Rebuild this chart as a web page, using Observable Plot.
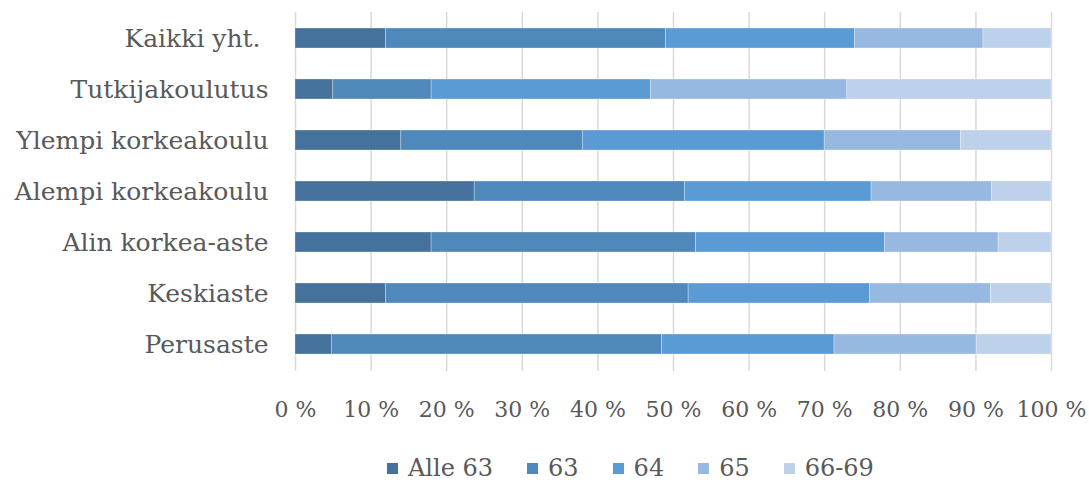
<!DOCTYPE html>
<html><head><meta charset="utf-8">
<script src="https://cdn.jsdelivr.net/npm/d3@7"></script>
<script src="https://cdn.jsdelivr.net/npm/@observablehq/plot@0.6"></script>
<style>
body{margin:0;background:#fff;font-family:"DejaVu Serif",serif;}
#legend{display:flex;justify-content:flex-start;font-size:24px;color:#595959;padding-left:387px;margin-top:23px;height:30px;align-items:center}
#legend span.item{display:flex;align-items:center;margin-right:34px}
#legend i{display:inline-block;width:11px;height:11px;margin-right:10px}
</style></head>
<body><div id="chart"></div><div id="legend"></div>
<script>
const categories = ["Kaikki yht. ","Tutkijakoulutus","Ylempi korkeakoulu","Alempi korkeakoulu","Alin korkea-aste","Keskiaste","Perusaste"];
const seriesNames = ["Alle 63","63","64","65","66-69"];
const colors = ["#44729c","#4f89bc","#5b9bd5","#97b8e0","#bdd1ea"];
const alle63 = [12, 5, 14, 23.7, 18, 12, 4.8];
const v63    = [37, 13, 24, 27.8, 35, 40, 43.7];
const v64    = [25, 29, 32, 24.7, 25, 24, 22.8];
const v65    = [17, 26, 18, 15.9, 15, 16, 18.8];
const v6669  = [9, 27, 12, 7.9, 7, 8, 9.9];
const xTicks = [0,0.1,0.2,0.3,0.4,0.5,0.6,0.7,0.8,0.9,1];

const seriesValues = [alle63, v63, v64, v65, v6669];
const data = [];
categories.forEach((c,i)=>seriesValues.forEach((arr,s)=>data.push({cat:c, series:seriesNames[s], value:arr[i]})));

const chart = Plot.plot({
  width:1089, height:430,
  marginLeft:295, marginRight:38, marginTop:12, marginBottom:59,
  style:{fontFamily:'"DejaVu Serif",serif', fontSize:"22px", color:"#595959", background:"#fff"},
  x:{domain:[0,1], ticks:xTicks, tickFormat:d=>Math.round(d*100)+" %", label:null},
  y:{domain:categories, paddingInner:0.6, paddingOuter:0.3, label:null},
  color:{domain:seriesNames, range:colors},
  marks:[
    Plot.ruleX(xTicks,{stroke:"#d9d9d9", strokeWidth:1.5}),
    Plot.barX(data, Plot.stackX({x:"value", y:"cat", fill:"series", order:seriesNames, offset:"normalize", stroke:"#ffffff", strokeOpacity:0.5, strokeWidth:0.6})),
    Plot.axisX({ticks:xTicks, tickFormat:d=>Math.round(d*100)+" %", tickSize:0, tickPadding:30, fill:"#595959", fontSize:22}),
    Plot.axisY({tickSize:0, tickPadding:27, fill:"#595959", fontSize:25})
  ]
});
document.getElementById("chart").appendChild(chart);
const lg = document.getElementById("legend");
seriesNames.forEach((n,i)=>{const s=document.createElement("span");s.className="item";s.innerHTML=`<i style="background:${colors[i]}"></i>${n}`;lg.appendChild(s);});
</script></body></html>
